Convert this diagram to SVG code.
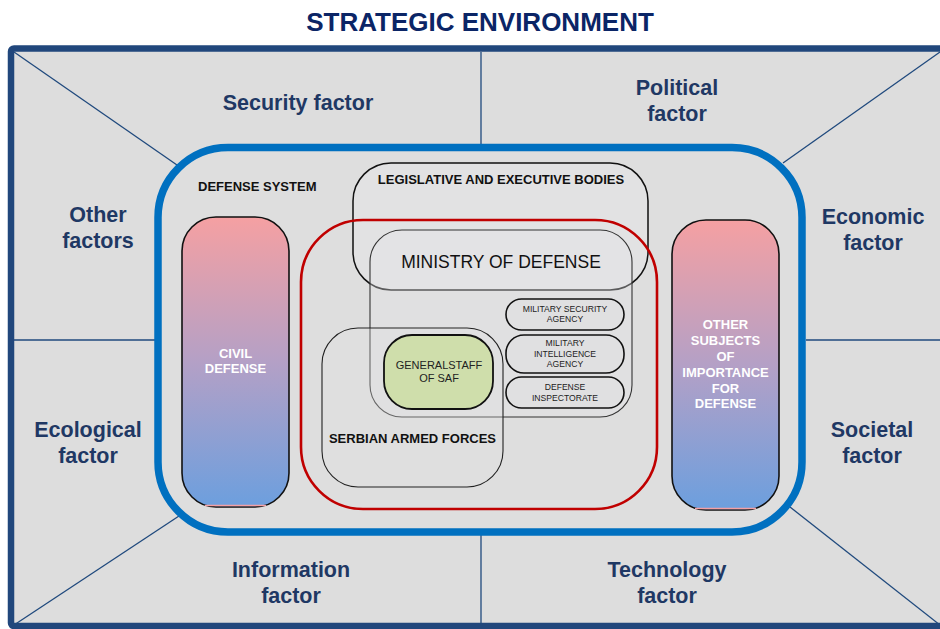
<svg xmlns="http://www.w3.org/2000/svg" width="940" height="629" viewBox="0 0 940 629">
<defs>
<linearGradient id="pill" x1="0" y1="0" x2="0" y2="1">
<stop offset="0" stop-color="#f5a0a2"/>
<stop offset="0.5" stop-color="#b4a0c6"/>
<stop offset="1" stop-color="#6c9fde"/>
</linearGradient>
<style>
text{font-family:"Liberation Sans",Arial,sans-serif}
.title{font-size:26px;font-weight:bold;fill:#0b2566;text-anchor:middle}
.factor{font-size:21.5px;font-weight:bold;fill:#1f3864;text-anchor:middle}
.div{stroke:#1f497d;stroke-width:1.3;fill:none}
.bold13{font-size:13px;font-weight:bold;fill:#111}
.white{font-size:13px;font-weight:bold;fill:#fff;text-anchor:middle}
.small{font-size:8.6px;fill:#222;text-anchor:middle}
.box{fill:none;stroke:#222;stroke-width:1.2}
.pill{fill:none;stroke:#111;stroke-width:1.6}
</style>
</defs>
<rect width="940" height="629" fill="#ffffff"/>
<text class="title" x="480" y="31">STRATEGIC ENVIRONMENT</text>
<g id="frame">
<rect x="11" y="48.5" width="940" height="577.5" rx="3" fill="#dddddd" stroke="#21477c" stroke-width="6.5"/>
</g>
<g id="connectors">
<line class="div" x1="14" y1="52" x2="177" y2="165"/>
<line class="div" x1="940" y1="52" x2="783" y2="163"/>
<line class="div" x1="14" y1="625" x2="179" y2="516"/>
<line class="div" x1="940" y1="625" x2="790" y2="507"/>
<line class="div" x1="481" y1="52" x2="481" y2="145"/>
<line class="div" x1="481" y1="535" x2="481" y2="625"/>
<line class="div" x1="14" y1="340" x2="155" y2="340"/>
<line class="div" x1="806" y1="340" x2="940" y2="340"/>
</g>
<g id="factors">
<text class="factor" x="298" y="110">Security factor</text>
<text class="factor" x="677" y="95">Political</text>
<text class="factor" x="677" y="121">factor</text>
<text class="factor" x="98" y="222">Other</text>
<text class="factor" x="98" y="248">factors</text>
<text class="factor" x="873" y="223.5">Economic</text>
<text class="factor" x="873" y="249.5">factor</text>
<text class="factor" x="88" y="437">Ecological</text>
<text class="factor" x="88" y="463">factor</text>
<text class="factor" x="872" y="437">Societal</text>
<text class="factor" x="872" y="463">factor</text>
<text class="factor" x="291" y="577">Information</text>
<text class="factor" x="291" y="603">factor</text>
<text class="factor" x="667" y="577">Technology</text>
<text class="factor" x="667" y="603">factor</text>
</g>
<g id="defense-system">
<rect x="158" y="147.5" width="644" height="384.5" rx="70" fill="#dedede" stroke="#0070c0" stroke-width="7.5"/>
<text class="bold13" x="198" y="191">DEFENSE SYSTEM</text>
</g>
<g id="legislative">
<rect x="353" y="163" width="295" height="127" rx="38" fill="#e4e4e6" fill-opacity="0.6" stroke="#111" stroke-width="1.5"/>
<text class="bold13" x="501" y="184" text-anchor="middle">LEGISLATIVE AND EXECUTIVE BODIES</text>
</g>
<g id="red-area">
<rect x="301" y="220" width="356" height="289" rx="62" fill="none" stroke="#c00000" stroke-width="2.6"/>
</g>
<g id="ministry">
<rect x="370" y="230" width="262" height="187" rx="32" fill="#e6e6e8" fill-opacity="0.35" stroke="#333" stroke-width="1.1"/>
<text x="501" y="268" font-size="17.5" fill="#111" text-anchor="middle">MINISTRY OF DEFENSE</text>
</g>
<g id="saf">
<rect x="322" y="328" width="181" height="159" rx="36" fill="#e2e2e2" fill-opacity="0.3" stroke="#222" stroke-width="1.1"/>
<text class="bold13" x="412.5" y="443" text-anchor="middle">SERBIAN ARMED FORCES</text>
</g>
<g id="generalstaff">
<rect x="384" y="335" width="109" height="74" rx="28" fill="#cfdeab" stroke="#111" stroke-width="1.8"/>
<text x="439" y="369" font-size="11" fill="#222" text-anchor="middle">GENERALSTAFF</text>
<text x="439" y="382" font-size="11" fill="#222" text-anchor="middle">OF SAF</text>
</g>
<g id="msa">
<rect class="pill" x="506" y="299" width="118" height="31" rx="15.5"/>
<text class="small" x="565" y="312">MILITARY SECURITY</text>
<text class="small" x="565" y="322">AGENCY</text>
</g>
<g id="mia">
<rect class="pill" x="506" y="335" width="118" height="38" rx="18"/>
<text class="small" x="565" y="346">MILITARY</text>
<text class="small" x="565" y="356.5">INTELLIGENCE</text>
<text class="small" x="565" y="367">AGENCY</text>
</g>
<g id="inspectorate">
<rect class="pill" x="506" y="377" width="118" height="31" rx="15.5"/>
<text class="small" x="565" y="390">DEFENSE</text>
<text class="small" x="565" y="400.5">INSPECTORATE</text>
</g>
<g id="civil-defense">
<rect x="182" y="217" width="107" height="290" rx="34" fill="url(#pill)" stroke="#111" stroke-width="1.6"/>
<line x1="205" y1="505.5" x2="266" y2="505.5" stroke="#f4a0a4" stroke-width="1.3"/>
<text class="white" x="235.5" y="358">CIVIL</text>
<text class="white" x="235.5" y="373">DEFENSE</text>
</g>
<g id="other-subjects">
<rect x="672" y="220" width="107" height="290" rx="34" fill="url(#pill)" stroke="#111" stroke-width="1.6"/>
<line x1="695" y1="508.5" x2="756" y2="508.5" stroke="#f4a0a4" stroke-width="1.3"/>
<text class="white" x="725.5" y="329">OTHER</text>
<text class="white" x="725.5" y="345">SUBJECTS</text>
<text class="white" x="725.5" y="361">OF</text>
<text class="white" x="725.5" y="377">IMPORTANCE</text>
<text class="white" x="725.5" y="392.5">FOR</text>
<text class="white" x="725.5" y="408">DEFENSE</text>
</g>
</svg>
